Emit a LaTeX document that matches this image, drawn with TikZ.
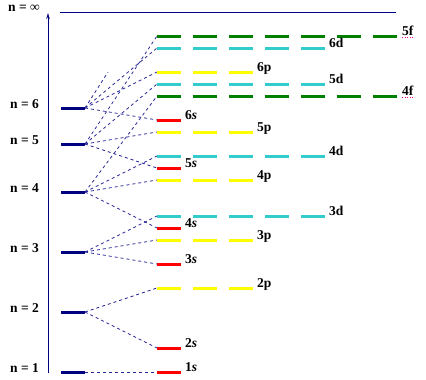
\documentclass[tikz,border=0pt]{standalone}
\usepackage{fontspec}
\setmainfont{Liberation Serif}
\usepackage{tikz}
\usetikzlibrary{arrows.meta,positioning}

\definecolor{navy}{RGB}{0,0,128}
\definecolor{linkblue}{RGB}{40,40,150}
\definecolor{orbred}{RGB}{255,0,0}
\definecolor{orbyellow}{RGB}{255,255,0}
\definecolor{orbcyan}{RGB}{51,204,204}
\definecolor{orbgreen}{RGB}{0,128,0}

\begin{document}
\begin{tikzpicture}[x=1pt,y=-1pt]
		\tikzstyle{Level}	= [line width=3pt, navy]
		\tikzstyle{Axis}	= [line width=1pt, navy]
		\tikzstyle{Link}	= [line width=0.8pt, linkblue, dash pattern=on 3pt off 3pt]
		\tikzstyle{Orb}		= [line width=3pt, dash pattern=on 24pt off 12pt]
		\tikzstyle{S}		= [Orb, orbred]
		\tikzstyle{P}		= [Orb, orbyellow]
		\tikzstyle{D}		= [Orb, orbcyan]
		\tikzstyle{F}		= [Orb, orbgreen]
		\tikzstyle{Lbl}		= [anchor=base west, inner sep=0pt, font=\fontsize{13.5}{15}\selectfont\bfseries]
		\tikzstyle{Spell}	= [magenta, line width=0.8pt, dash pattern=on 1pt off 1.5pt]

		\useasboundingbox (0,0) rectangle (426,380);

		\coordinate (axb) at (48,373);
		\coordinate (axt) at (48,13);
		\coordinate (infa) at (60,12);
		\coordinate (infb) at (396,12);

		\coordinate (n1a) at (61,372);	\coordinate (n1) at (85,372);
		\coordinate (n2a) at (61,312);	\coordinate (n2) at (85,312);
		\coordinate (n3a) at (61,252);	\coordinate (n3) at (85,252);
		\coordinate (n4a) at (61,192);	\coordinate (n4) at (85,192);
		\coordinate (n5a) at (61,144);	\coordinate (n5) at (85,144);
		\coordinate (n6a) at (61,108);	\coordinate (n6) at (85,108);

		\coordinate (o1s) at (157,372);
		\coordinate (o2s) at (157,348);
		\coordinate (o2p) at (157,288);
		\coordinate (o3s) at (157,264);
		\coordinate (o3p) at (157,240);
		\coordinate (o4s) at (157,228);
		\coordinate (o3d) at (157,216);
		\coordinate (o4p) at (157,180);
		\coordinate (o5s) at (157,168);
		\coordinate (o4d) at (157,156);
		\coordinate (o5p) at (157,132);
		\coordinate (o6s) at (157,120);
		\coordinate (o4f) at (157,96);
		\coordinate (o5d) at (157,84);
		\coordinate (o6p) at (157,72);
		\coordinate (o6d) at (157,48);
		\coordinate (o5f) at (157,36);
		\coordinate (o6f) at (108,72);

		\draw [-] (n1) to (o1s) [Link];
		\draw [-] (n2) to (o2s) [Link];
		\draw [-] (n2) to (o2p) [Link];
		\draw [-] (n3) to (o3s) [Link];
		\draw [-] (n3) to (o3p) [Link];
		\draw [-] (n3) to (o3d) [Link];
		\draw [-] (n4) to (o4s) [Link];
		\draw [-] (n4) to (o4p) [Link];
		\draw [-] (n4) to (o4d) [Link];
		\draw [-] (n4) to (o4f) [Link];
		\draw [-] (n5) to (o5s) [Link];
		\draw [-] (n5) to (o5p) [Link];
		\draw [-] (n5) to (o5d) [Link];
		\draw [-] (n5) to (o5f) [Link];
		\draw [-] (n6) to (o6s) [Link];
		\draw [-] (n6) to (o6p) [Link];
		\draw [-] (n6) to (o6d) [Link];
		\draw [-] (n6) to (o6f) [Link];

		\draw [-{Stealth[length=6pt,width=3.5pt]}] (axb) to (axt) [Axis];
		\draw [-] (infa) to (infb) [Axis];

		\draw [-] (n1a) to (n1) [Level];
		\draw [-] (n2a) to (n2) [Level];
		\draw [-] (n3a) to (n3) [Level];
		\draw [-] (n4a) to (n4) [Level];
		\draw [-] (n5a) to (n5) [Level];
		\draw [-] (n6a) to (n6) [Level];

		\draw [S] (o1s) -- ++(24,0);
		\draw [S] (o2s) -- ++(24,0);
		\draw [S] (o3s) -- ++(24,0);
		\draw [S] (o4s) -- ++(24,0);
		\draw [S] (o5s) -- ++(24,0);
		\draw [S] (o6s) -- ++(24,0);
		\draw [P] (o2p) -- ++(96,0);
		\draw [P] (o3p) -- ++(96,0);
		\draw [P] (o4p) -- ++(96,0);
		\draw [P] (o5p) -- ++(96,0);
		\draw [P] (o6p) -- ++(96,0);
		\draw [D] (o3d) -- ++(168,0);
		\draw [D] (o4d) -- ++(168,0);
		\draw [D] (o5d) -- ++(168,0);
		\draw [D] (o6d) -- ++(168,0);
		\draw [F] (o4f) -- ++(240,0);
		\draw [F] (o5f) -- ++(240,0);

		\node (ninf) at (8,12) [Lbl] {n = ∞};
		\node (ln6) at (10,108) [Lbl] {n = 6};
		\node (ln5) at (10,144) [Lbl] {n = 5};
		\node (ln4) at (10,192) [Lbl] {n = 4};
		\node (ln3) at (10,252) [Lbl] {n = 3};
		\node (ln2) at (10,312) [Lbl] {n = 2};
		\node (ln1) at (10,372) [Lbl] {n = 1};

		\node (l1s) at (185,371) [Lbl] {1\textit{s}};
		\node (l2s) at (185,347) [Lbl] {2\textit{s}};
		\node (l3s) at (185,263) [Lbl] {3\textit{s}};
		\node (l4s) at (185,227) [Lbl] {4\textit{s}};
		\node (l5s) at (185,167) [Lbl] {5\textit{s}};
		\node (l6s) at (185,119) [Lbl] {6\textit{s}};
		\node (l2p) at (257,287) [Lbl] {2p};
		\node (l3p) at (257,239) [Lbl] {3p};
		\node (l4p) at (257,179) [Lbl] {4p};
		\node (l5p) at (257,131) [Lbl] {5p};
		\node (l6p) at (257,71) [Lbl] {6p};
		\node (l3d) at (329,215) [Lbl] {3d};
		\node (l4d) at (329,155) [Lbl] {4d};
		\node (l5d) at (329,83) [Lbl] {5d};
		\node (l6d) at (329,47) [Lbl] {6d};
		\node (l4f) at (402,95) [Lbl] {4f};
		\node (l5f) at (402,35) [Lbl] {5f};

		\draw [Spell] (l4f.south west) ++(0,2) -- ++(11,0);
		\draw [Spell] (l5f.south west) ++(0,2) -- ++(11,0);
	\end{tikzpicture}
\end{document}
